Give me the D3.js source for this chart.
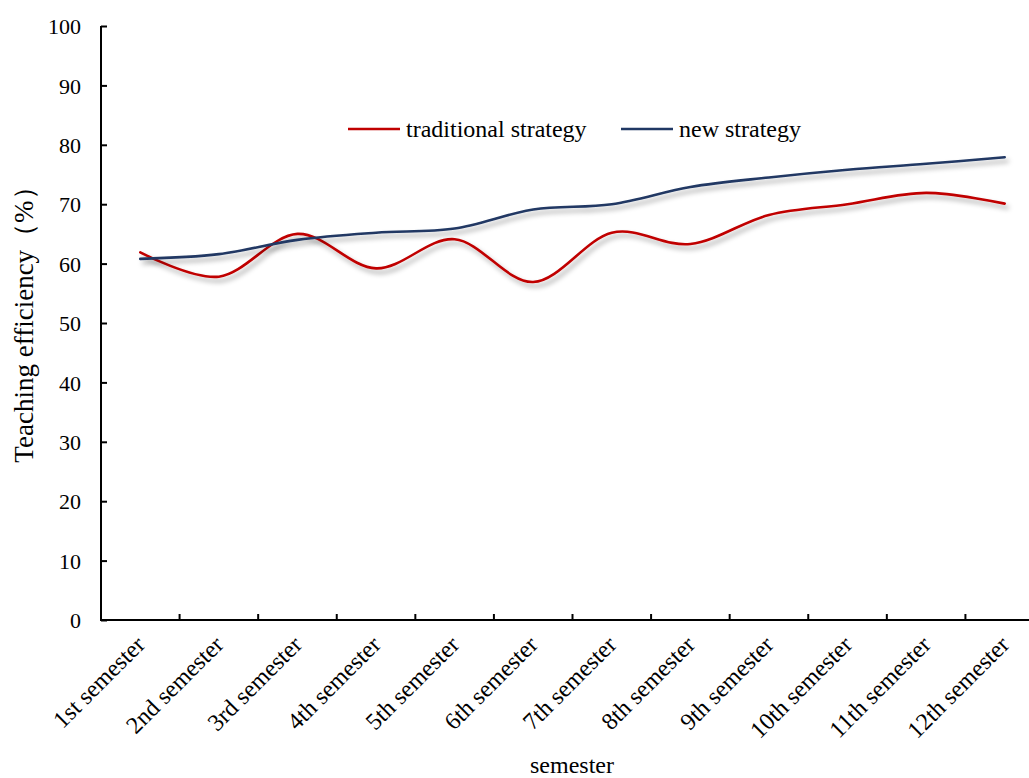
<!DOCTYPE html>
<html>
<head>
<meta charset="utf-8">
<script src="https://cdn.jsdelivr.net/npm/d3@7/dist/d3.min.js"></script>
<style>
  html, body { margin: 0; padding: 0; background: #fff; }
  svg { display: block; }
  text { font-family: "Liberation Serif", "Times New Roman", serif; fill: #000; }
</style>
</head>
<body>
<svg id="chart" width="1029" height="778"></svg>
<script>
// Semesters along the x axis
const semesters = ["1st semester", "2nd semester", "3rd semester", "4th semester",
  "5th semester", "6th semester", "7th semester", "8th semester",
  "9th semester", "10th semester", "11th semester", "12th semester"];

// Teaching efficiency (%) per semester
const traditionalStrategy = [61.9, 57.8, 65.0, 59.2, 64.1, 56.9, 65.2, 63.3, 68.2, 70.0, 71.9, 70.1];
const newStrategy = [60.8, 61.6, 64.0, 65.2, 65.9, 69.1, 70.0, 72.9, 74.5, 75.8, 76.8, 77.9];

const yTicks = [0, 10, 20, 30, 40, 50, 60, 70, 80, 90, 100];

const seriesNames = ["traditional strategy", "new strategy"];
const seriesColors = ["#C00000", "#203864"];

const svg = d3.select("#chart");
const margin = { left: 101, top: 26, bottom: 620 };
const xRight = 1044;

const x = d3.scaleBand().domain(semesters).range([margin.left, xRight]).padding(0);
const y = d3.scaleLinear().domain([0, 100]).range([margin.bottom, margin.top]);

// Soft drop shadow beneath the lines
const defs = svg.append("defs");
const f = defs.append("filter").attr("id", "shadow")
  .attr("x", "-5%").attr("y", "-30%").attr("width", "110%").attr("height", "160%");
f.append("feDropShadow").attr("dx", 3).attr("dy", 4).attr("stdDeviation", 2.6)
  .attr("flood-color", "#000").attr("flood-opacity", 0.35);

// Y axis (ticks pointing inward)
const yAxis = d3.axisRight(y).tickValues(yTicks).tickSize(6).tickFormat(d3.format("d"));
const gy = svg.append("g").attr("transform", `translate(${margin.left},0)`).call(yAxis);
gy.select(".domain").attr("stroke", "#000").attr("stroke-width", 2)
  .attr("d", `M${0},${margin.top}V${margin.bottom}`);
gy.selectAll(".tick line").attr("stroke", "#000").attr("stroke-width", 2);
gy.selectAll(".tick text").attr("x", -20).attr("text-anchor", "end")
  .attr("dy", "0.35em").style("font-size", "22px");

// X axis: ticks at category boundaries, pointing inward
const boundaries = semesters.slice(1).map(s => x(s));
const gx = svg.append("g").attr("transform", `translate(0,${margin.bottom})`);
gx.append("line").attr("x1", margin.left - 1).attr("x2", xRight)
  .attr("stroke", "#000").attr("stroke-width", 2);
gx.selectAll("line.tk").data(boundaries).enter().append("line").attr("class", "tk")
  .attr("x1", d => d).attr("x2", d => d).attr("y1", 0).attr("y2", -6)
  .attr("stroke", "#000").attr("stroke-width", 2);
gx.selectAll("text.lab").data(semesters).enter().append("text").attr("class", "lab")
  .attr("text-anchor", "end")
  .attr("transform", d => `translate(${x(d) + x.bandwidth() / 2 + 6},${26}) rotate(-45)`)
  .style("font-size", "24px")
  .text(d => d);

// Axis titles
svg.append("text").attr("x", 572).attr("y", 773)
  .attr("text-anchor", "middle").style("font-size", "24px").text("semester");
svg.append("text")
  .attr("transform", `translate(33,${318}) rotate(-90)`)
  .attr("text-anchor", "middle").style("font-size", "27px")
  .text("Teaching efficiency（%）");

// Smoothed lines
const line = d3.line()
  .x((d, i) => x(semesters[i]) + x.bandwidth() / 2)
  .y(d => y(d))
  .curve(d3.curveCardinal.tension(0));

[traditionalStrategy, newStrategy].forEach((vals, k) => {
  svg.append("path").datum(vals)
    .attr("fill", "none")
    .attr("stroke", seriesColors[k])
    .attr("stroke-width", 2.6)
    .attr("stroke-linecap", "round")
    .attr("filter", "url(#shadow)")
    .attr("d", line);
});

// Legend
const legendItems = [{ x: 348 }, { x: 621 }];
legendItems.forEach((it, k) => {
  const g = svg.append("g").attr("transform", `translate(${it.x},129)`);
  g.append("line").attr("x1", 0).attr("x2", 52).attr("y1", 0).attr("y2", 0)
    .attr("stroke", seriesColors[k]).attr("stroke-width", 2.6);
  g.append("text").attr("x", 58).attr("y", 8).style("font-size", "24px").text(seriesNames[k]);
});
</script>
</body>
</html>
